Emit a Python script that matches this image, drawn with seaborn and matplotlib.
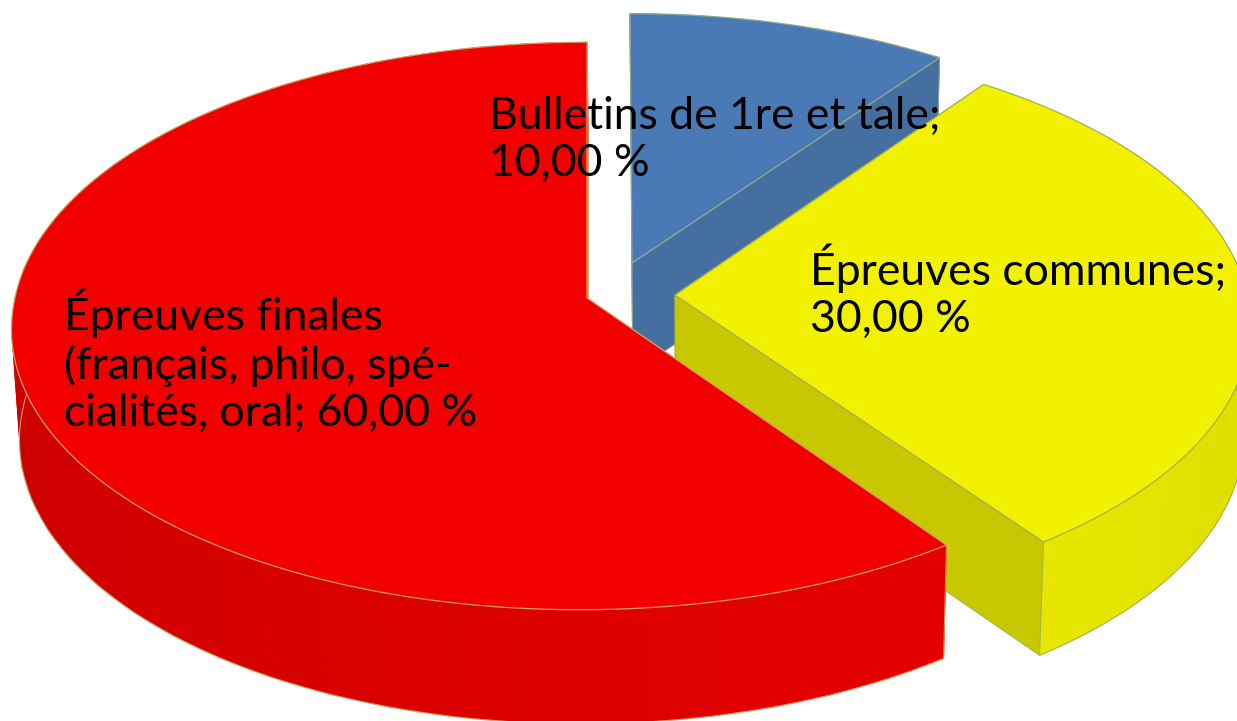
import numpy as np
import matplotlib
matplotlib.use('Agg')
import matplotlib.pyplot as plt
import seaborn as sns

# chart values
slice_names = ['Bulletins de 1re et tale', 'Épreuves communes', 'Épreuves finales\n(français, philo, spé-\ncialités, oral']
slice_shares = [10.0, 30.0, 60.0]

# colours: top face, radial wall, rim at start and end of the slice, edge line
top_colors = ['#4a7ab6', '#f2f200', '#f20000']
wall_colors = ['#466fa1', '#c8c800', '#d80000']
rim_start_colors = ['#466fa1', '#d2d200', '#e40000']
rim_end_colors = ['#466fa1', '#e6e600', '#b80000']
edge_colors = ['#8fa98f', '#a4b050', '#d0a060']

# layout in pixels: apex of each exploded slice, size of the disc, label anchors
apex_list = [(632, 263), (675, 295), (587, 298)]
scale_x_list = [0.993, 1.0, 1.0]
scale_y_list = [0.975, 1.0, 1.0]
skew_back_list = [0.008, 0.013, 0.0]
skew_front_list = [0.0, 0.013, -0.024]
label_pos = [(489, 176), (810, 332), (64, 426)]
RADIUS_X = 572
RADIUS_Y = 281
TILT = 0.0986
THICKNESS = 110


def project(theta, idx):
    # theta runs clockwise from 12 o'clock, far side of the disc looks smaller
    apex = apex_list[idx]
    depth = 1 + TILT * np.cos(theta)
    dy = -scale_y_list[idx] * RADIUS_Y * np.cos(theta) / depth
    skew = np.where(dy < 0, skew_back_list[idx], skew_front_list[idx])
    dx = scale_x_list[idx] * RADIUS_X * np.sin(theta) / depth + skew * dy
    return apex[0] + dx, apex[1] + dy


def drop(x, y):
    # same point on the underside of the disc
    return x + (700 - x) * 0.0116, y + THICKNESS + (y - 263) * 0.012


def draw_slice(ax, idx, start, end):
    apex = apex_list[idx]
    edge = edge_colors[idx]
    z_base = 10 * (idx + 1)

    # a slice on the far side shows its wall over the rim, the others the rim over the walls
    far_side = np.cos((start + end) / 2) > 0
    z_rim = z_base if far_side else z_base + 1
    z_wall = z_base + 1 if far_side else z_base

    # rim, in flat facets like the original
    n_facet = max(int((end - start) / np.radians(6)), 2)
    shades = sns.blend_palette([rim_start_colors[idx], rim_end_colors[idx]], n_facet)
    edges = np.linspace(start, end, n_facet + 1)
    for i in range(n_facet):
        x0, y0 = project(edges[i], idx)
        x1, y1 = project(edges[i + 1], idx)
        bx0, by0 = drop(x0, y0)
        bx1, by1 = drop(x1, y1)
        ax.fill([x0, x1, bx1, bx0], [y0, y1, by1, by0],
                facecolor=shades[i], edgecolor=shades[i], linewidth=0.6, zorder=z_rim)

    # outline of the lower rim
    theta = np.linspace(start, end, 200)
    rim_x, rim_y = project(theta, idx)
    low_x, low_y = drop(rim_x, rim_y)
    ax.plot(low_x, low_y, color=edge, linewidth=0.8, zorder=z_rim)

    # radial walls
    for theta_wall in [start, end]:
        rx, ry = project(theta_wall, idx)
        ax_bx, ax_by = drop(apex[0], apex[1])
        bx, by = drop(rx, ry)
        ax.fill([apex[0], rx, bx, ax_bx], [apex[1], ry, by, ax_by],
                facecolor=wall_colors[idx], edgecolor=edge, linewidth=0.7, zorder=z_wall)

    # corner lines at the ends of the rim
    if not far_side:
        ax.plot([rim_x[0], low_x[0]], [rim_y[0], low_y[0]], color=edge, linewidth=0.7, zorder=z_rim)
        ax.plot([rim_x[-1], low_x[-1]], [rim_y[-1], low_y[-1]], color=edge, linewidth=0.7, zorder=z_rim)

    # top face
    ax.fill(np.r_[apex[0], rim_x], np.r_[apex[1], rim_y],
            facecolor=top_colors[idx], edgecolor=edge, linewidth=0.9, zorder=z_base + 3)


def main():
    sns.set_theme(style='white')
    plt.rcParams['font.family'] = ['Lato', 'DejaVu Sans']

    fig = plt.figure(figsize=(12.37, 7.21), dpi=100)
    ax = fig.add_axes([0, 0, 1, 1])
    ax.set_xlim(0, 1237)
    ax.set_ylim(721, 0)
    ax.axis('off')

    bounds = np.r_[0, np.cumsum(slice_shares)] / np.sum(slice_shares) * 2 * np.pi
    for idx in range(len(slice_shares)):
        draw_slice(ax, idx, bounds[idx], bounds[idx + 1])

    for idx, name in enumerate(slice_names):
        share = f'{slice_shares[idx]:.2f}'.replace('.', ',')
        sep = '\n' if idx < 2 else ' '
        label = f'{name};{sep}{share} %'
        x, y = label_pos[idx]
        ax.text(x, y, label, fontsize=32, color='black', ha='left', va='baseline',
                linespacing=1.18, zorder=100)

    plt.savefig('out.png', dpi=100)
    plt.close()


if __name__ == '__main__':
    main()
